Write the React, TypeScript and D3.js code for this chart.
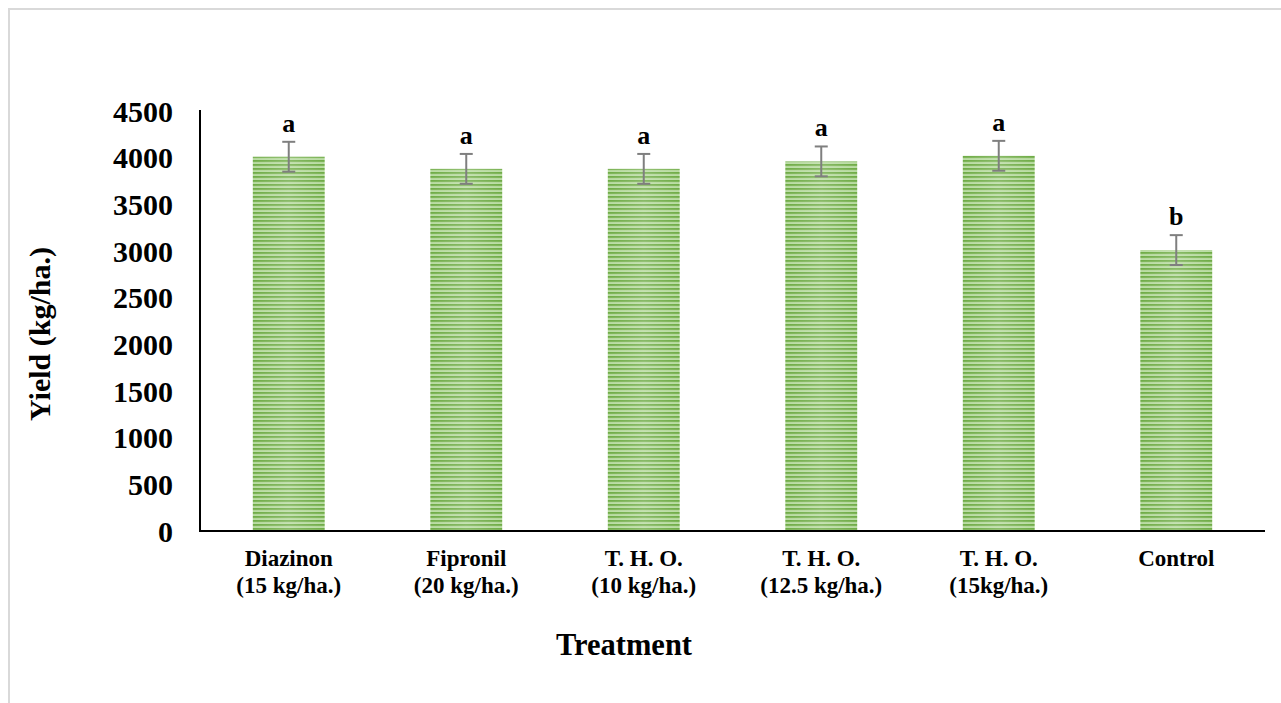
import React from "react";
import * as d3 from "d3";

const categories: string[][] = [
  ["Diazinon", "(15 kg/ha.)"],
  ["Fipronil", "(20 kg/ha.)"],
  ["T. H. O.", "(10 kg/ha.)"],
  ["T. H. O.", "(12.5 kg/ha.)"],
  ["T. H. O.", "(15kg/ha.)"],
  ["Control"],
];
const yieldValues: number[] = [4010, 3880, 3880, 3960, 4020, 3010];
const errorValues: number[] = [160, 160, 160, 160, 160, 160];
const letters: string[] = ["a", "a", "a", "a", "a", "b"];
const yTicks: number[] = [0, 500, 1000, 1500, 2000, 2500, 3000, 3500, 4000, 4500];

const W = 1281;
const H = 703;
const left = 200;
const right = 1265;
const top = 111;
const bottom = 531;
const font = "'Liberation Serif', 'Times New Roman', serif";

export default function App() {
  const x = d3
    .scaleBand<number>()
    .domain(categories.map((_, i) => i))
    .range([left, right])
    .paddingInner(0.595)
    .paddingOuter(0.2975);
  const y = d3.scaleLinear().domain([0, 4500]).range([bottom, top]);

  return (
    <svg
      width={W}
      height={H}
      style={{ position: "absolute", left: 0, top: 0, background: "#fff" }}
    >
      <defs>
        <pattern id="stripes" patternUnits="userSpaceOnUse" width="8" height="4">
          <rect x="0" y="0" width="8" height="4" fill="#d6ebc8" />
          <rect x="0" y="0" width="8" height="1.9" fill="#6fac46" />
          <rect x="0" y="1.9" width="8" height="0.7" fill="#9ccb7c" />
          <rect x="0" y="3.4" width="8" height="0.6" fill="#a6d28a" />
        </pattern>
        <linearGradient id="sheen" x1="0" x2="1" y1="0" y2="0">
          <stop offset="0" stopColor="#fff" stopOpacity="0" />
          <stop offset="0.5" stopColor="#fff" stopOpacity="0.18" />
          <stop offset="1" stopColor="#fff" stopOpacity="0" />
        </linearGradient>
      </defs>
      <rect x={9} y={9} width={1300} height={720} fill="#fff" stroke="#d9d9d9" strokeWidth={2} />

      {yieldValues.map((v, i) => (
        <g key={i}>
          <rect x={x(i)} y={y(v)} width={x.bandwidth()} height={bottom - y(v)} fill="url(#stripes)" />
          <rect x={x(i)} y={y(v)} width={x.bandwidth()} height={bottom - y(v)} fill="url(#sheen)" />
        </g>
      ))}

      {yieldValues.map((v, i) => {
        const cx = (x(i) as number) + x.bandwidth() / 2;
        const y1 = y(v + errorValues[i]);
        const y2 = y(v - errorValues[i]);
        return (
          <g key={"e" + i} stroke="#7f7f7f" strokeWidth={2}>
            <line x1={cx} x2={cx} y1={y1} y2={y2} />
            <line x1={cx - 6.5} x2={cx + 6.5} y1={y1} y2={y1} />
            <line x1={cx - 6.5} x2={cx + 6.5} y1={y2} y2={y2} />
          </g>
        );
      })}

      {letters.map((l, i) => (
        <text
          key={"l" + i}
          x={(x(i) as number) + x.bandwidth() / 2}
          y={y(yieldValues[i] + errorValues[i]) - 10}
          textAnchor="middle"
          fontFamily={font}
          fontWeight="bold"
          fontSize={26}
          fill="#000"
        >
          {l}
        </text>
      ))}

      <line x1={left} x2={left} y1={top - 1} y2={bottom} stroke="#000" strokeWidth={2} />
      <line x1={left - 1} x2={right} y1={bottom} y2={bottom} stroke="#000" strokeWidth={2} />

      {yTicks.map((t) => (
        <text
          key={"t" + t}
          x={173}
          y={y(t)}
          dy="0.35em"
          textAnchor="end"
          fontFamily={font}
          fontWeight="bold"
          fontSize={30}
          fill="#000"
        >
          {t}
        </text>
      ))}

      {categories.map((lines, i) => (
        <text
          key={"c" + i}
          x={(x(i) as number) + x.bandwidth() / 2}
          y={566}
          textAnchor="middle"
          fontFamily={font}
          fontWeight="bold"
          fontSize={23}
          fill="#000"
        >
          {lines.map((s, j) => (
            <tspan key={j} x={(x(i) as number) + x.bandwidth() / 2} dy={j === 0 ? 0 : 27}>
              {s}
            </tspan>
          ))}
        </text>
      ))}

      <text
        x={624}
        y={655}
        textAnchor="middle"
        fontFamily={font}
        fontWeight="bold"
        fontSize={30.5}
        fill="#000"
      >
        Treatment
      </text>
      <text
        transform={`translate(50, 334) rotate(-90)`}
        textAnchor="middle"
        fontFamily={font}
        fontWeight="bold"
        fontSize={30}
        fill="#000"
      >
        Yield (kg/ha.)
      </text>
    </svg>
  );
}
